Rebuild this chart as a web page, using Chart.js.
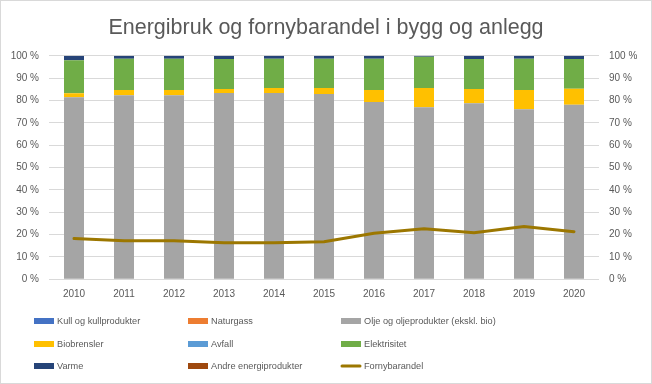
<!DOCTYPE html>
<html>
<head>
<meta charset="utf-8">
<script src="https://cdn.jsdelivr.net/npm/chart.js@4.4.0/dist/chart.umd.min.js"></script>
<style>
  body { margin: 0; background: #fff; }
</style>
</head>
<body>
<canvas id="myChart" width="652" height="384"></canvas>
<script>
const years = ['2010', '2011', '2012', '2013', '2014', '2015', '2016', '2017', '2018', '2019', '2020'];
const kull = [0, 0, 0, 0, 0, 0, 0, 0, 0, 0, 0];
const naturgass = [0, 0, 0, 0, 0, 0, 0, 0, 0, 0, 0];
const olje = [81.4, 82.4, 82.4, 83.3, 83.3, 82.9, 79.3, 77.0, 78.8, 76.1, 78.1];
const biobrensler = [1.8, 2.3, 2.3, 1.8, 2.3, 2.7, 5.4, 8.6, 6.3, 8.6, 7.2];
const avfall = [0, 0, 0, 0, 0, 0, 0, 0, 0, 0, 0];
const elektrisitet = [14.8, 14.0, 14.0, 13.5, 13.1, 13.1, 14.0, 14.0, 13.5, 14.0, 13.3];
const varme = [2.0, 1.3, 1.3, 1.4, 1.3, 1.3, 1.3, 0.4, 1.4, 1.3, 1.4];
const andre = [0, 0, 0, 0, 0, 0, 0, 0, 0, 0, 0];
const fornybarandel = [18.2, 17.3, 17.3, 16.4, 16.4, 16.8, 20.6, 22.6, 20.8, 23.6, 21.3];
const yTicks = [0, 10, 20, 30, 40, 50, 60, 70, 80, 90, 100];

const tekstFarge = '#595959';
const ctx = document.getElementById('myChart').getContext('2d');

const bar = (label, data, color) => ({
    type: 'bar',
    label,
    data,
    backgroundColor: color,
    borderWidth: 0,
    yAxisID: 'y',
    stack: 's1',
    categoryPercentage: 1,
    barPercentage: 0.4,
});

// legend rekkefolge: 3 kolonner, radvis
const legendOrder = [0, 1, 2, 3, 4, 5, 6, 7, 8];

const legendPlugin = {
    id: 'gridLegend',
    afterDraw(chart) {
        const c = chart.ctx;
        const colX = [34, 188, 341];
        const rowY = [321, 344, 366];
        c.save();
        c.font = "9.2px 'Liberation Sans', sans-serif";
        c.textBaseline = 'middle';
        c.fillStyle = tekstFarge;
        legendOrder.forEach((dsIndex, i) => {
            const ds = chart.data.datasets[dsIndex];
            const x = colX[i % 3];
            const y = rowY[Math.floor(i / 3)];
            if (ds.type === 'line') {
                c.strokeStyle = ds.borderColor;
                c.lineWidth = 3;
                c.lineCap = 'round';
                c.beginPath();
                c.moveTo(x + 1, y);
                c.lineTo(x + 19, y);
                c.stroke();
            } else {
                c.fillStyle = ds.backgroundColor;
                c.fillRect(x, y - 3, 20, 6);
            }
            c.fillStyle = tekstFarge;
            c.fillText(ds.label, x + 23, y);
        });
        // ramme rundt diagrammet
        c.strokeStyle = '#d9d9d9';
        c.lineWidth = 1;
        c.strokeRect(0.5, 0.5, chart.width - 1, chart.height - 1);
        c.restore();
    },
};

const pctTick = (v) => `${v} %`;

const config = {
    data: {
        labels: years,
        datasets: [
            bar('Kull og kullprodukter', kull, '#4472C4'),
            bar('Naturgass', naturgass, '#ED7D31'),
            bar('Olje og oljeprodukter (ekskl. bio)', olje, '#A5A5A5'),
            bar('Biobrensler', biobrensler, '#FFC000'),
            bar('Avfall', avfall, '#5B9BD5'),
            bar('Elektrisitet', elektrisitet, '#70AD47'),
            bar('Varme', varme, '#264478'),
            bar('Andre energiprodukter', andre, '#9E480E'),
            {
                type: 'line',
                label: 'Fornybarandel',
                data: fornybarandel,
                borderColor: '#9C7700',
                borderWidth: 3,
                pointRadius: 0,
                tension: 0,
                yAxisID: 'y2',
                order: -1,
                borderCapStyle: 'round',
            },
        ],
    },
    options: {
        responsive: false,
        animation: false,
        layout: { padding: { top: 0, left: 0, right: 0, bottom: 74.7 } },
        plugins: {
            legend: { display: false },
            tooltip: { enabled: false },
            title: {
                display: true,
                text: 'Energibruk og fornybarandel i bygg og anlegg',
                color: tekstFarge,
                font: { family: "'Liberation Sans', sans-serif", size: 21.5, weight: 'normal' },
                padding: { top: 15, bottom: 15 },
            },
        },
        scales: {
            x: {
                stacked: true,
                grid: { display: false, drawTicks: false },
                border: { display: false },
                ticks: {
                    color: tekstFarge,
                    padding: 9,
                    font: { family: "'Liberation Sans', sans-serif", size: 10 },
                },
            },
            y: {
                stacked: true,
                position: 'left',
                min: 0,
                max: 100,
                afterBuildTicks: (scale) => { scale.ticks = yTicks.map((v) => ({ value: v })); },
                afterFit: (scale) => { scale.width = 49; },
                grid: { color: '#d9d9d9', drawTicks: false },
                border: { display: false },
                ticks: {
                    color: tekstFarge,
                    padding: 10,
                    callback: pctTick,
                    font: { family: "'Liberation Sans', sans-serif", size: 10 },
                },
            },
            y2: {
                stacked: false,
                position: 'right',
                min: 0,
                max: 100,
                afterBuildTicks: (scale) => { scale.ticks = yTicks.map((v) => ({ value: v })); },
                afterFit: (scale) => { scale.width = 53; },
                grid: { display: false, drawTicks: false },
                border: { display: false },
                ticks: {
                    color: tekstFarge,
                    padding: 10,
                    callback: pctTick,
                    font: { family: "'Liberation Sans', sans-serif", size: 10 },
                },
            },
        },
    },
    plugins: [legendPlugin],
};

const myChart = new Chart(ctx, config);
</script>
</body>
</html>
